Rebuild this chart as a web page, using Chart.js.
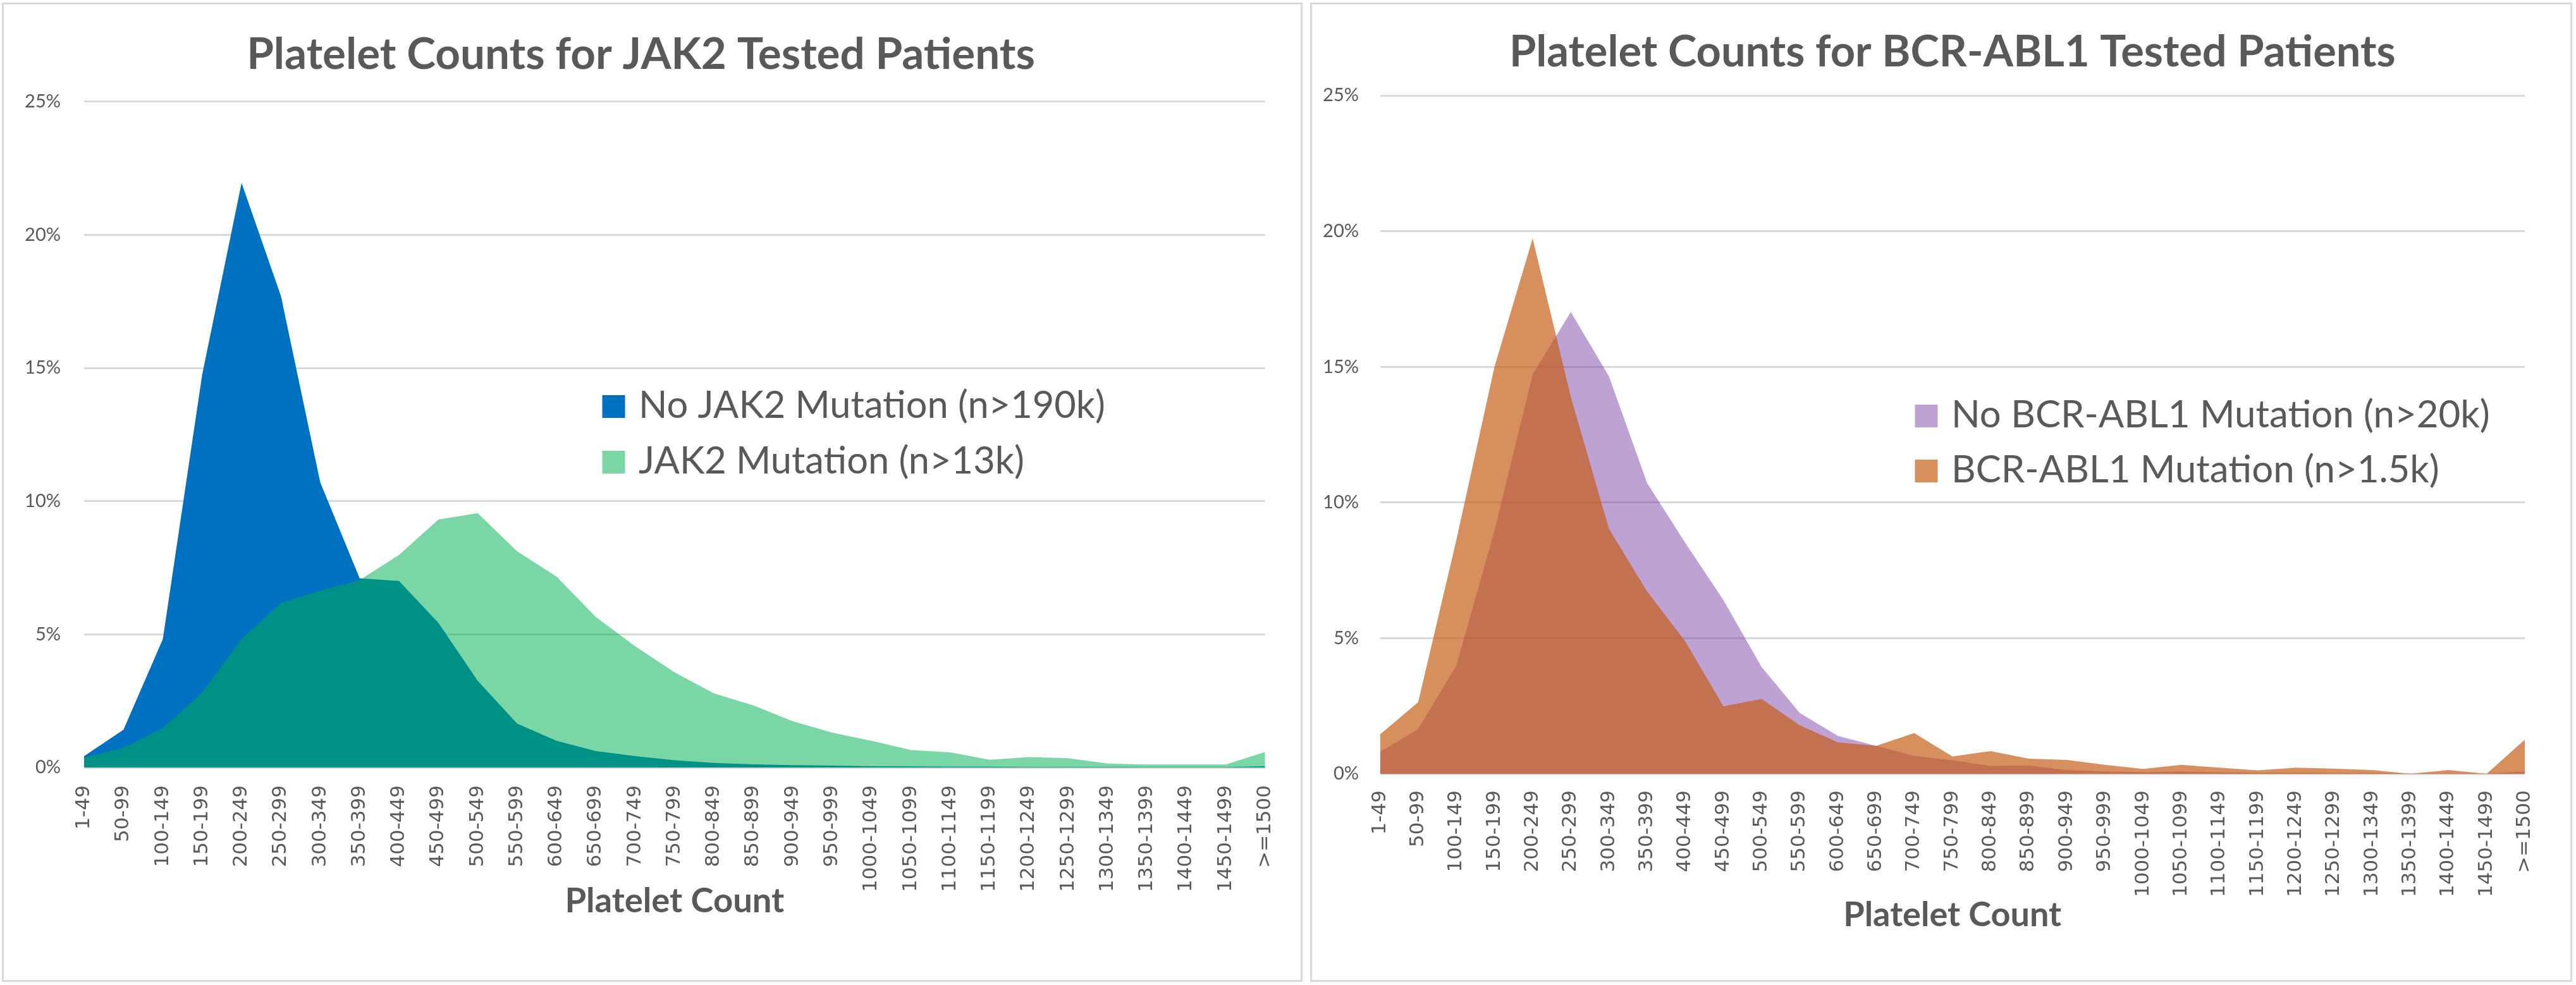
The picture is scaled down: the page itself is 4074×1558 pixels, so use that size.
<!DOCTYPE html>
<html><head><meta charset="utf-8">
<script src="https://cdn.jsdelivr.net/npm/chart.js@4.4.1/dist/chart.umd.min.js"></script>
<style>
html,body{margin:0;padding:0;background:#fff;width:4074px;height:1558px;overflow:hidden;}
.panel{position:absolute;border:3px solid #D9D9D9;box-sizing:border-box;}
canvas{position:absolute;top:0;}
</style></head><body>
<div class="panel" style="left:3px;top:4px;width:2057px;height:1549px"></div>
<div class="panel" style="left:2072px;top:4px;width:1996px;height:1549px"></div>
<canvas id="c1" width="2066" height="1558" style="left:0"></canvas>
<canvas id="c2" width="2008" height="1558" style="left:2066px"></canvas>
<script>
// ---------- DATA ----------
const categories = ['1-49','50-99','100-149','150-199','200-249','250-299','300-349','350-399','400-449','450-499',
  '500-549','550-599','600-649','650-699','700-749','750-799','800-849','850-899','900-949','950-999',
  '1000-1049','1050-1099','1100-1149','1150-1199','1200-1249','1250-1299','1300-1349','1350-1399','1400-1449','1450-1499','>=1500'];
const yTickLabels = ['0%','5%','10%','15%','20%','25%'];

const noJak2 = [0.43,1.42,4.82,14.75,21.95,17.7,10.7,7.1,7.0,5.43,3.25,1.65,1.0,0.62,0.43,0.27,0.17,0.12,0.09,0.07,0.05,0.04,0.03,0.03,0.02,0.02,0.02,0.01,0.01,0.01,0.05];
const jak2 = [0.36,0.75,1.48,2.81,4.82,6.17,6.64,7.04,7.98,9.31,9.55,8.12,7.17,5.65,4.55,3.57,2.78,2.33,1.74,1.31,1.0,0.66,0.57,0.29,0.39,0.35,0.15,0.11,0.11,0.11,0.58];
const noBcrAbl1 = [0.81,1.65,3.99,8.96,14.72,17.02,14.65,10.72,8.51,6.4,3.94,2.24,1.40,1.03,0.66,0.5,0.29,0.31,0.14,0.09,0.06,0.09,0.05,0.04,0.04,0.03,0.03,0.01,0.02,0.01,0.09];
const bcrAbl1 = [1.45,2.64,8.61,15.0,19.73,13.9,9.03,6.72,4.88,2.49,2.76,1.79,1.16,1.03,1.50,0.64,0.84,0.56,0.51,0.33,0.18,0.33,0.23,0.13,0.23,0.19,0.14,0.0,0.14,0.0,1.26];

const titleLeft = 'Platelet Counts for JAK2 Tested Patients';
const titleRight = 'Platelet Counts for BCR-ABL1 Tested Patients';
const axisTitle = 'Platelet Count';
const seriesLeft = ['No JAK2 Mutation (n>190k)','JAK2 Mutation (n>13k)'];
const seriesRight = ['No BCR-ABL1 Mutation (n>20k)','BCR-ABL1 Mutation (n>1.5k)'];

// ---------- STYLE / LAYOUT ----------
const GRAY = '#595959';
const layoutLeft = {
  canvasW: 2066, canvasH: 1558,
  area: {left: 133, right: 2027, top: 160.7, bottom: 1214},
  titleW: 1247, titleMid: 87, titleFull: true,
  yPad: 37, xPad: 28, axisTitleW: 347, axisTitleMid: 1425,
  legend: {boxX: 952.5, box: 36, textX: 1010, rows: [661, 749], textW: 738}
};
const layoutRight = {
  canvasW: 2008, canvasH: 1558,
  area: {left: 116.5, right: 1927, top: 151, bottom: 1224},
  titleW: 1402, titleMid: 83, titleFull: false,
  yPad: 33.5, xPad: 26, axisTitleW: 345, axisTitleMid: 1448,
  legend: {boxX: 962.5, box: 36, textX: 1020, rows: [676, 763], textW: 852}
};

const mctx = document.createElement('canvas').getContext('2d');
function fitSize(text, weight, family, target) {
  mctx.font = weight + ' 100px ' + family;
  return 100 * target / mctx.measureText(text).width;
}

const insideLegend = {
  id: 'insideLegend',
  afterDraw(chart, args, opts) {
    const ctx = chart.ctx;
    ctx.save();
    ctx.font = opts.size + 'px Lato';
    ctx.textBaseline = 'alphabetic';
    ctx.textAlign = 'left';
    chart.data.datasets.forEach((ds, i) => {
      const base = opts.rows[i];
      ctx.fillStyle = '#ffffff';
      ctx.fillRect(opts.boxX, base - opts.box, opts.box, opts.box);
      ctx.fillStyle = ds.backgroundColor;
      ctx.fillRect(opts.boxX, base - opts.box, opts.box, opts.box);
      ctx.fillStyle = GRAY;
      ctx.fillText(ds.label, opts.textX, base);
    });
    ctx.restore();
  }
};

function makeChart(id, L, title, names, values, colors, orders) {
  const tS = fitSize(title, 'bold', 'Lato', L.titleW);
  const tPadTop = L.titleMid - 0.6 * tS;
  const tPadBottom = L.area.top - tPadTop - 1.2 * tS;
  const aS = fitSize(axisTitle, 'bold', 'Lato', L.axisTitleW);
  const aPadBottom = L.canvasH - L.axisTitleMid - 0.6 * aS;
  const lS = fitSize(names[0], 'normal', 'Lato', L.legend.textW);
  const xH = L.canvasH - L.area.bottom;
  const yW = L.area.left;
  return new Chart(document.getElementById(id), {
    type: 'line',
    data: {
      labels: categories,
      datasets: names.map((n, i) => ({
        label: n,
        data: values[i],
        fill: 'origin',
        backgroundColor: colors[i],
        borderColor: 'rgba(0,0,0,0)',
        borderWidth: 0,
        pointRadius: 0,
        pointHoverRadius: 0,
        tension: 0,
        order: orders[i]
      }))
    },
    options: {
      responsive: false,
      animation: false,
      devicePixelRatio: 1,
      layout: {padding: {left: 0, top: 0, bottom: 0, right: L.canvasW - L.area.right}},
      plugins: {
        legend: {display: false},
        tooltip: {enabled: false},
        title: {
          display: true, text: title, color: GRAY, fullSize: L.titleFull,
          font: {family: 'Lato', weight: 'bold', size: tS, lineHeight: 1.2},
          padding: {top: tPadTop, bottom: tPadBottom}
        },
        insideLegend: {size: lS, boxX: L.legend.boxX, box: L.legend.box, textX: L.legend.textX, rows: L.legend.rows}
      },
      scales: {
        x: {
          type: 'category', offset: false,
          grid: {display: false, drawTicks: false},
          border: {display: false},
          ticks: {autoSkip: false, minRotation: 90, maxRotation: 90, padding: L.xPad, color: GRAY,
                  font: {family: 'DejaVu Sans', size: 31}},
          title: {display: true, text: axisTitle, color: GRAY,
                  font: {family: 'Lato', weight: 'bold', size: aS, lineHeight: 1.2},
                  padding: {top: 0, bottom: aPadBottom}},
          afterFit(s) { s.height = xH; }
        },
        y: {
          min: 0, max: 25,
          ticks: {stepSize: 5, padding: L.yPad, color: GRAY, font: {family: 'Lato', size: 29},
                  callback: (v, i) => yTickLabels[i]},
          grid: {color: '#D9D9D9', lineWidth: 3, drawTicks: false},
          border: {display: false},
          afterFit(s) { s.width = yW; }
        }
      }
    },
    plugins: [insideLegend]
  });
}

makeChart('c1', layoutLeft, titleLeft, seriesLeft, [noJak2, jak2],
  ['rgb(0,112,192)', 'rgba(0,176,80,0.52)'], [1, 0]);
makeChart('c2', layoutRight, titleRight, seriesRight, [noBcrAbl1, bcrAbl1],
  ['rgba(112,48,160,0.45)', 'rgba(197,90,17,0.68)'], [1, 0]);
</script>
</body></html>
